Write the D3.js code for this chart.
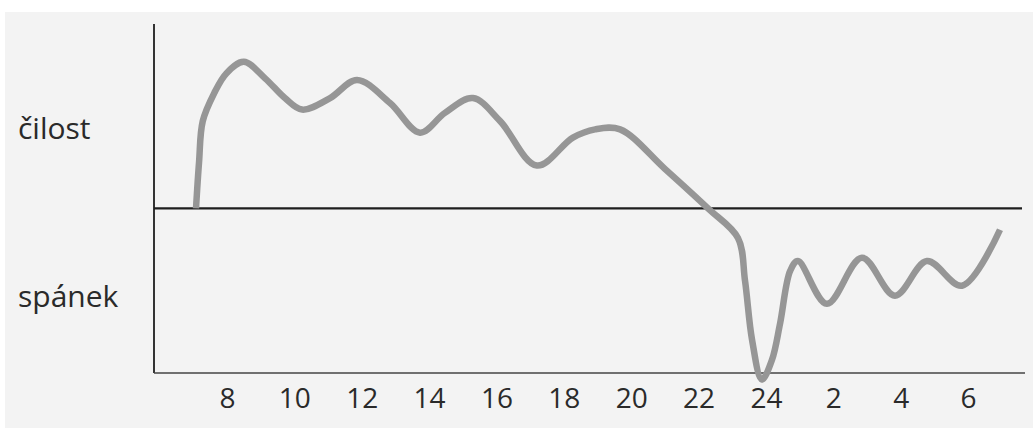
<!DOCTYPE html>
<html>
<head>
<meta charset="utf-8">
<script src="https://cdn.jsdelivr.net/npm/d3@7"></script>
<style>
  html, body { margin: 0; padding: 0; background: #ffffff; }
  svg { display: block; }
  text { font-family: "Open Sans", "Noto Sans", sans-serif; fill: #2a2a2a; }
</style>
</head>
<body>
<svg id="chart" width="1033" height="428"></svg>
<script>
// Hours of the day (continuing past midnight: 26 = 2 h, 30 = 6 h)
const tickHours  = [8, 10, 12, 14, 16, 18, 20, 22, 24, 26, 28, 30];
const tickLabels = ["8", "10", "12", "14", "16", "18", "20", "22", "24", "2", "4", "6"];

// Traced curve: hour and alertness level (0 = threshold line, + = čilost, − = spánek)
const curveHours  = [7.08, 7.17, 7.28, 7.62, 7.98, 8.50, 9.13, 9.72, 10.23, 11.06, 11.86, 12.84,
                     13.73, 14.47, 15.30, 16.11, 17.20, 18.27, 18.93, 19.67, 21.00, 22.28, 23.17,
                     23.38, 23.59, 23.88, 24.18, 24.42, 24.72, 24.95, 25.81, 26.85, 27.83, 28.78,
                     29.82, 30.95];
const curveLevels = [0, 2.8, 5.3, 7.0, 8.2, 8.9, 7.9, 6.7, 6.0, 6.7, 7.8, 6.4,
                     4.6, 5.8, 6.7, 5.3, 2.6, 4.3, 4.8, 4.8, 2.4, 0, -1.8,
                     -4.4, -8.0, -10.4, -9.2, -7.0, -3.8, -3.2, -5.8, -3.0, -5.3, -3.2,
                     -4.7, -1.3];

const axisLabels = ["čilost", "spánek"];
const axisLabelLevels = [4.2, -6.0];

const svg = d3.select("#chart");

// page background (scanned paper tone)
svg.append("rect").attr("x", 0).attr("y", 0).attr("width", 1033).attr("height", 428).attr("fill", "#ffffff");
svg.append("rect").attr("x", 5).attr("y", 12).attr("width", 1028).attr("height", 416).attr("fill", "#f3f3f3");

const x = d3.scaleLinear().domain([8, 30]).range([227, 968]);
const y = d3.scaleLinear().domain([-10, 11.2]).range([373, 24]);

const xLeft = 154, xRight = 1024;

// vertical axis
svg.append("line")
  .attr("x1", xLeft).attr("x2", xLeft)
  .attr("y1", y(11.2)).attr("y2", y(-10))
  .attr("stroke", "#1e1e1e").attr("stroke-width", 1.8);

// threshold line
svg.append("line")
  .attr("x1", xLeft).attr("x2", xRight - 2)
  .attr("y1", y(0)).attr("y2", y(0))
  .attr("stroke", "#1e1e1e").attr("stroke-width", 2.2);

// bottom axis with labels
const xAxis = d3.axisBottom(x)
  .tickValues(tickHours)
  .tickFormat((d, i) => tickLabels[i])
  .tickSize(0)
  .tickPadding(15);

const gx = svg.append("g").attr("transform", `translate(0,${y(-10)})`).call(xAxis);
gx.select(".domain").remove();
gx.selectAll("text")
  .attr("font-size", 28)
  .attr("font-family", "\"Open Sans\", \"Noto Sans\", sans-serif")
  .attr("fill", "#2a2a2a");

svg.append("line")
  .attr("x1", xLeft).attr("x2", xRight + 1)
  .attr("y1", y(-10)).attr("y2", y(-10))
  .attr("stroke", "#444").attr("stroke-width", 1.5);

// side labels
svg.selectAll("text.side")
  .data(axisLabels)
  .join("text")
  .attr("class", "side")
  .attr("x", 18)
  .attr("y", (d, i) => y(axisLabelLevels[i]))
  .attr("font-size", 30)
  .text(d => d);

// curve
const pts = curveHours.map((h, i) => [h, curveLevels[i]]);
const line = d3.line()
  .x(d => x(d[0]))
  .y(d => y(d[1]))
  .curve(d3.curveCatmullRom.alpha(0.5));

svg.append("path")
  .datum(pts)
  .attr("d", line)
  .attr("fill", "none")
  .attr("stroke", "#969696")
  .attr("stroke-width", 6.5)
  .attr("stroke-linejoin", "round")
  .attr("stroke-linecap", "butt");
</script>
</body>
</html>
